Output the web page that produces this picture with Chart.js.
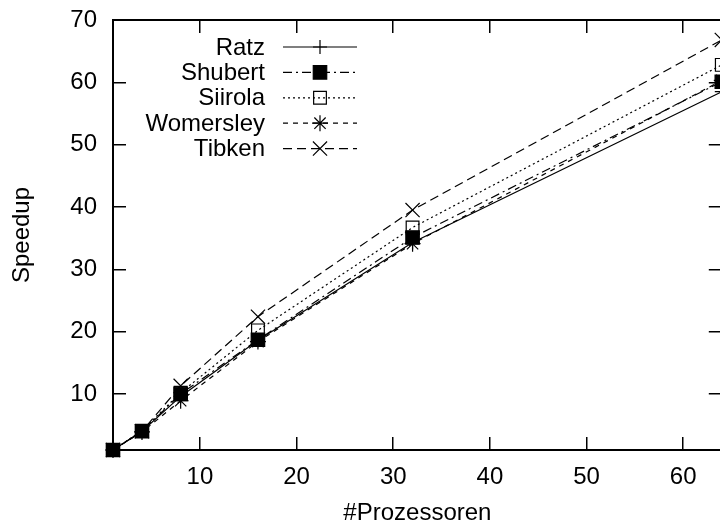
<!DOCTYPE html>
<html>
<head>
<meta charset="utf-8">
<script src="https://cdn.jsdelivr.net/npm/chart.js@4.4.1/dist/chart.umd.min.js"></script>
<style>
html, body { margin: 0; padding: 0; overflow: hidden; background: #fff; }
</style>
</head>
<body>
<canvas id="speedupChart" width="733" height="531"></canvas>
<script>
// speedup measurements per solver
const processors = [1, 4, 8, 16, 32, 64];
const ratz      = [1, 4, 9.6, 18.6, 34.3, 58.5];
const shubert   = [1, 4, 10, 18.7, 35.1, 60.1];
const siirola   = [1, 4.1, 10.2, 20.2, 36.7, 62.8];
const womersley = [1, 3.9, 8.9, 18.4, 34.1, 60.3];
const tibken    = [1, 4, 11.3, 22.4, 39.5, 66.8];

const xTicks = [10, 20, 30, 40, 50, 60];
const yTicks = [10, 20, 30, 40, 50, 60, 70];

const FONT = '"Liberation Sans", Arial, Helvetica, sans-serif';
const FONT_SIZE = 24;

function makeSeries(label, values, style) {
    return {
        label: label,
        data: processors.map((p, i) => ({ x: p, y: values[i] })),
        borderColor: '#000',
        borderWidth: 1.2,
        borderDash: style.dash,
        pointStyle: style.point,
        pointRadius: style.radius,
        pointBorderWidth: 1.2,
        pointBorderColor: '#000',
        pointBackgroundColor: style.fill ? '#000' : 'rgba(0,0,0,0)',
        fill: false,
        tension: 0,
        clip: false
    };
}

// gnuplot-like key: text right aligned, sample line + marker to the right
const gnuplotKey = {
    id: 'gnuplotKey',
    afterDatasetsDraw(chart) {
        const ctx = chart.ctx;
        ctx.save();
        ctx.font = FONT_SIZE + 'px ' + FONT;
        ctx.textAlign = 'right';
        ctx.textBaseline = 'middle';
        chart.data.datasets.forEach((ds, i) => {
            const y = 47 + i * 25.4;
            ctx.fillStyle = '#000';
            ctx.fillText(ds.label, 265, y + 1);
            ctx.strokeStyle = '#000';
            ctx.lineWidth = ds.borderWidth;
            ctx.setLineDash(ds.borderDash);
            ctx.beginPath();
            ctx.moveTo(283, y);
            ctx.lineTo(357, y);
            ctx.stroke();
            ctx.setLineDash([]);
            ctx.fillStyle = ds.pointBackgroundColor;
            ctx.lineWidth = ds.pointBorderWidth;
            Chart.helpers.drawPoint(ctx, {
                pointStyle: ds.pointStyle,
                radius: ds.pointRadius,
                borderWidth: ds.pointBorderWidth,
                rotation: 0
            }, 320, y);
        });
        ctx.restore();
    }
};

function tickGrid() {
    return { drawOnChartArea: false, color: '#000', lineWidth: 1.5, tickLength: -13 };
}
const border = { display: true, color: '#000', width: 2 };

// fixed box sizes, no label overflow padding
function fixBox(w, h) {
    return s => {
        if (w !== null) s.width = w;
        if (h !== null) s.height = h;
        s.paddingTop = 0;
        s.paddingBottom = 0;
        s.paddingLeft = 0;
        s.paddingRight = 0;
    };
}

const ctx = document.getElementById('speedupChart').getContext('2d');
new Chart(ctx, {
    type: 'line',
    data: {
        datasets: [
            makeSeries('Ratz', ratz, { dash: [], point: 'cross', radius: 7 }),
            makeSeries('Shubert', shubert, { dash: [9, 4, 2, 4], point: 'rect', radius: 9.5, fill: true }),
            makeSeries('Siirola', siirola, { dash: [2, 3], point: 'rect', radius: 9 }),
            makeSeries('Womersley', womersley, { dash: [5, 5], point: 'star', radius: 8 }),
            makeSeries('Tibken', tibken, { dash: [9, 5], point: 'crossRot', radius: 10 })
        ]
    },
    options: {
        responsive: false,
        animation: false,
        layout: { padding: { top: 20, left: 0, right: 0, bottom: 0 } },
        plugins: {
            legend: { display: false },
            tooltip: { enabled: false }
        },
        scales: {
            x: {
                type: 'linear',
                position: 'bottom',
                min: 1,
                max: 64,
                afterBuildTicks: s => { s.ticks = xTicks.map(v => ({ value: v })); },
                afterFit: fixBox(null, 81),
                grid: tickGrid(),
                border: border,
                ticks: { color: '#000', padding: 26, maxRotation: 0, font: { family: FONT, size: FONT_SIZE } },
                title: { display: true, text: '#Prozessoren', color: '#000', padding: { top: 0, bottom: 3 }, font: { family: FONT, size: FONT_SIZE } }
            },
            x2: {
                type: 'linear',
                position: 'top',
                min: 1,
                max: 64,
                afterBuildTicks: s => { s.ticks = xTicks.map(v => ({ value: v })); },
                afterFit: fixBox(null, 0),
                grid: tickGrid(),
                border: border,
                ticks: { display: false }
            },
            y: {
                type: 'linear',
                position: 'left',
                min: 1,
                max: 70,
                afterBuildTicks: s => { s.ticks = yTicks.map(v => ({ value: v })); },
                afterFit: fixBox(113, null),
                grid: tickGrid(),
                border: border,
                ticks: { color: '#000', padding: 29, font: { family: FONT, size: FONT_SIZE } },
                title: { display: true, text: 'Speedup', color: '#000', padding: { top: 8, bottom: 0 }, font: { family: FONT, size: FONT_SIZE } }
            },
            y2: {
                type: 'linear',
                position: 'right',
                min: 1,
                max: 70,
                afterBuildTicks: s => { s.ticks = yTicks.map(v => ({ value: v })); },
                afterFit: fixBox(2, null),
                grid: tickGrid(),
                border: border,
                ticks: { display: false }
            }
        }
    },
    plugins: [gnuplotKey]
});
</script>
</body>
</html>
